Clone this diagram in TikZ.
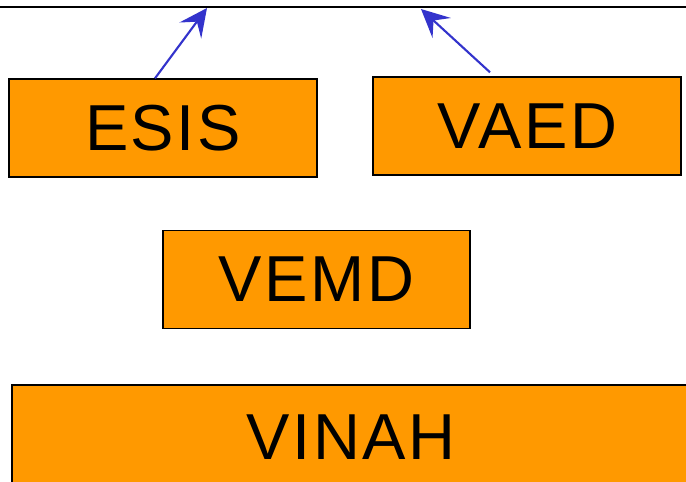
\documentclass[tikz,border=0pt]{standalone}
\usepackage{fontspec}
\setmainfont[LetterSpace=4]{Liberation Sans}
\usetikzlibrary{arrows.meta}
\definecolor{boxorange}{HTML}{FF9900}
\definecolor{arrowblue}{HTML}{3333CC}
\tikzset{
  modbox/.style = {draw=black, fill=boxorange, line width=0.8pt,
                   minimum width=6.16cm, minimum height=1.96cm,
                   inner sep=0pt, font=\fontsize{37}{42}\selectfont},
  uparrow/.style = {draw=arrowblue, line width=1.2pt,
                    -{Stealth[length=0.56cm, width=0.54cm, inset=0.22cm]}}
}

\begin{document}
\begin{tikzpicture}[x=0.02cm, y=-0.02cm]
	\useasboundingbox (0,0) rectangle (686,481);
	\clip (0,0) rectangle (686,481);
	\fill[white] (0,0) rectangle (686,481);
	% top line
	\coordinate (left) at (0,7);
	\coordinate (right) at (686,7);
	\draw[line width=1pt] (left) -- (right);
	% modules
	\node[modbox] (esis) at (163,128) {ESIS};
	\node[modbox] (vaed) at (527,126) {VAED};
	\node[modbox, minimum width=6.14cm] (vemd) at (316.5,279.5) {VEMD};
	\node[modbox, minimum width=13.56cm, minimum height=2.08cm] (vinah) at (351,437) {VINAH};
	% arrows to the line
	\coordinate (tipA) at (207,8);
	\coordinate (tipB) at (421,9);
	\draw[uparrow] ([xshift=-0.16cm]esis.north) -- (tipA);
	\draw[uparrow] ([shift={(-0.74cm,0.08cm)}]vaed.north) -- (tipB);
\end{tikzpicture}
\end{document}
